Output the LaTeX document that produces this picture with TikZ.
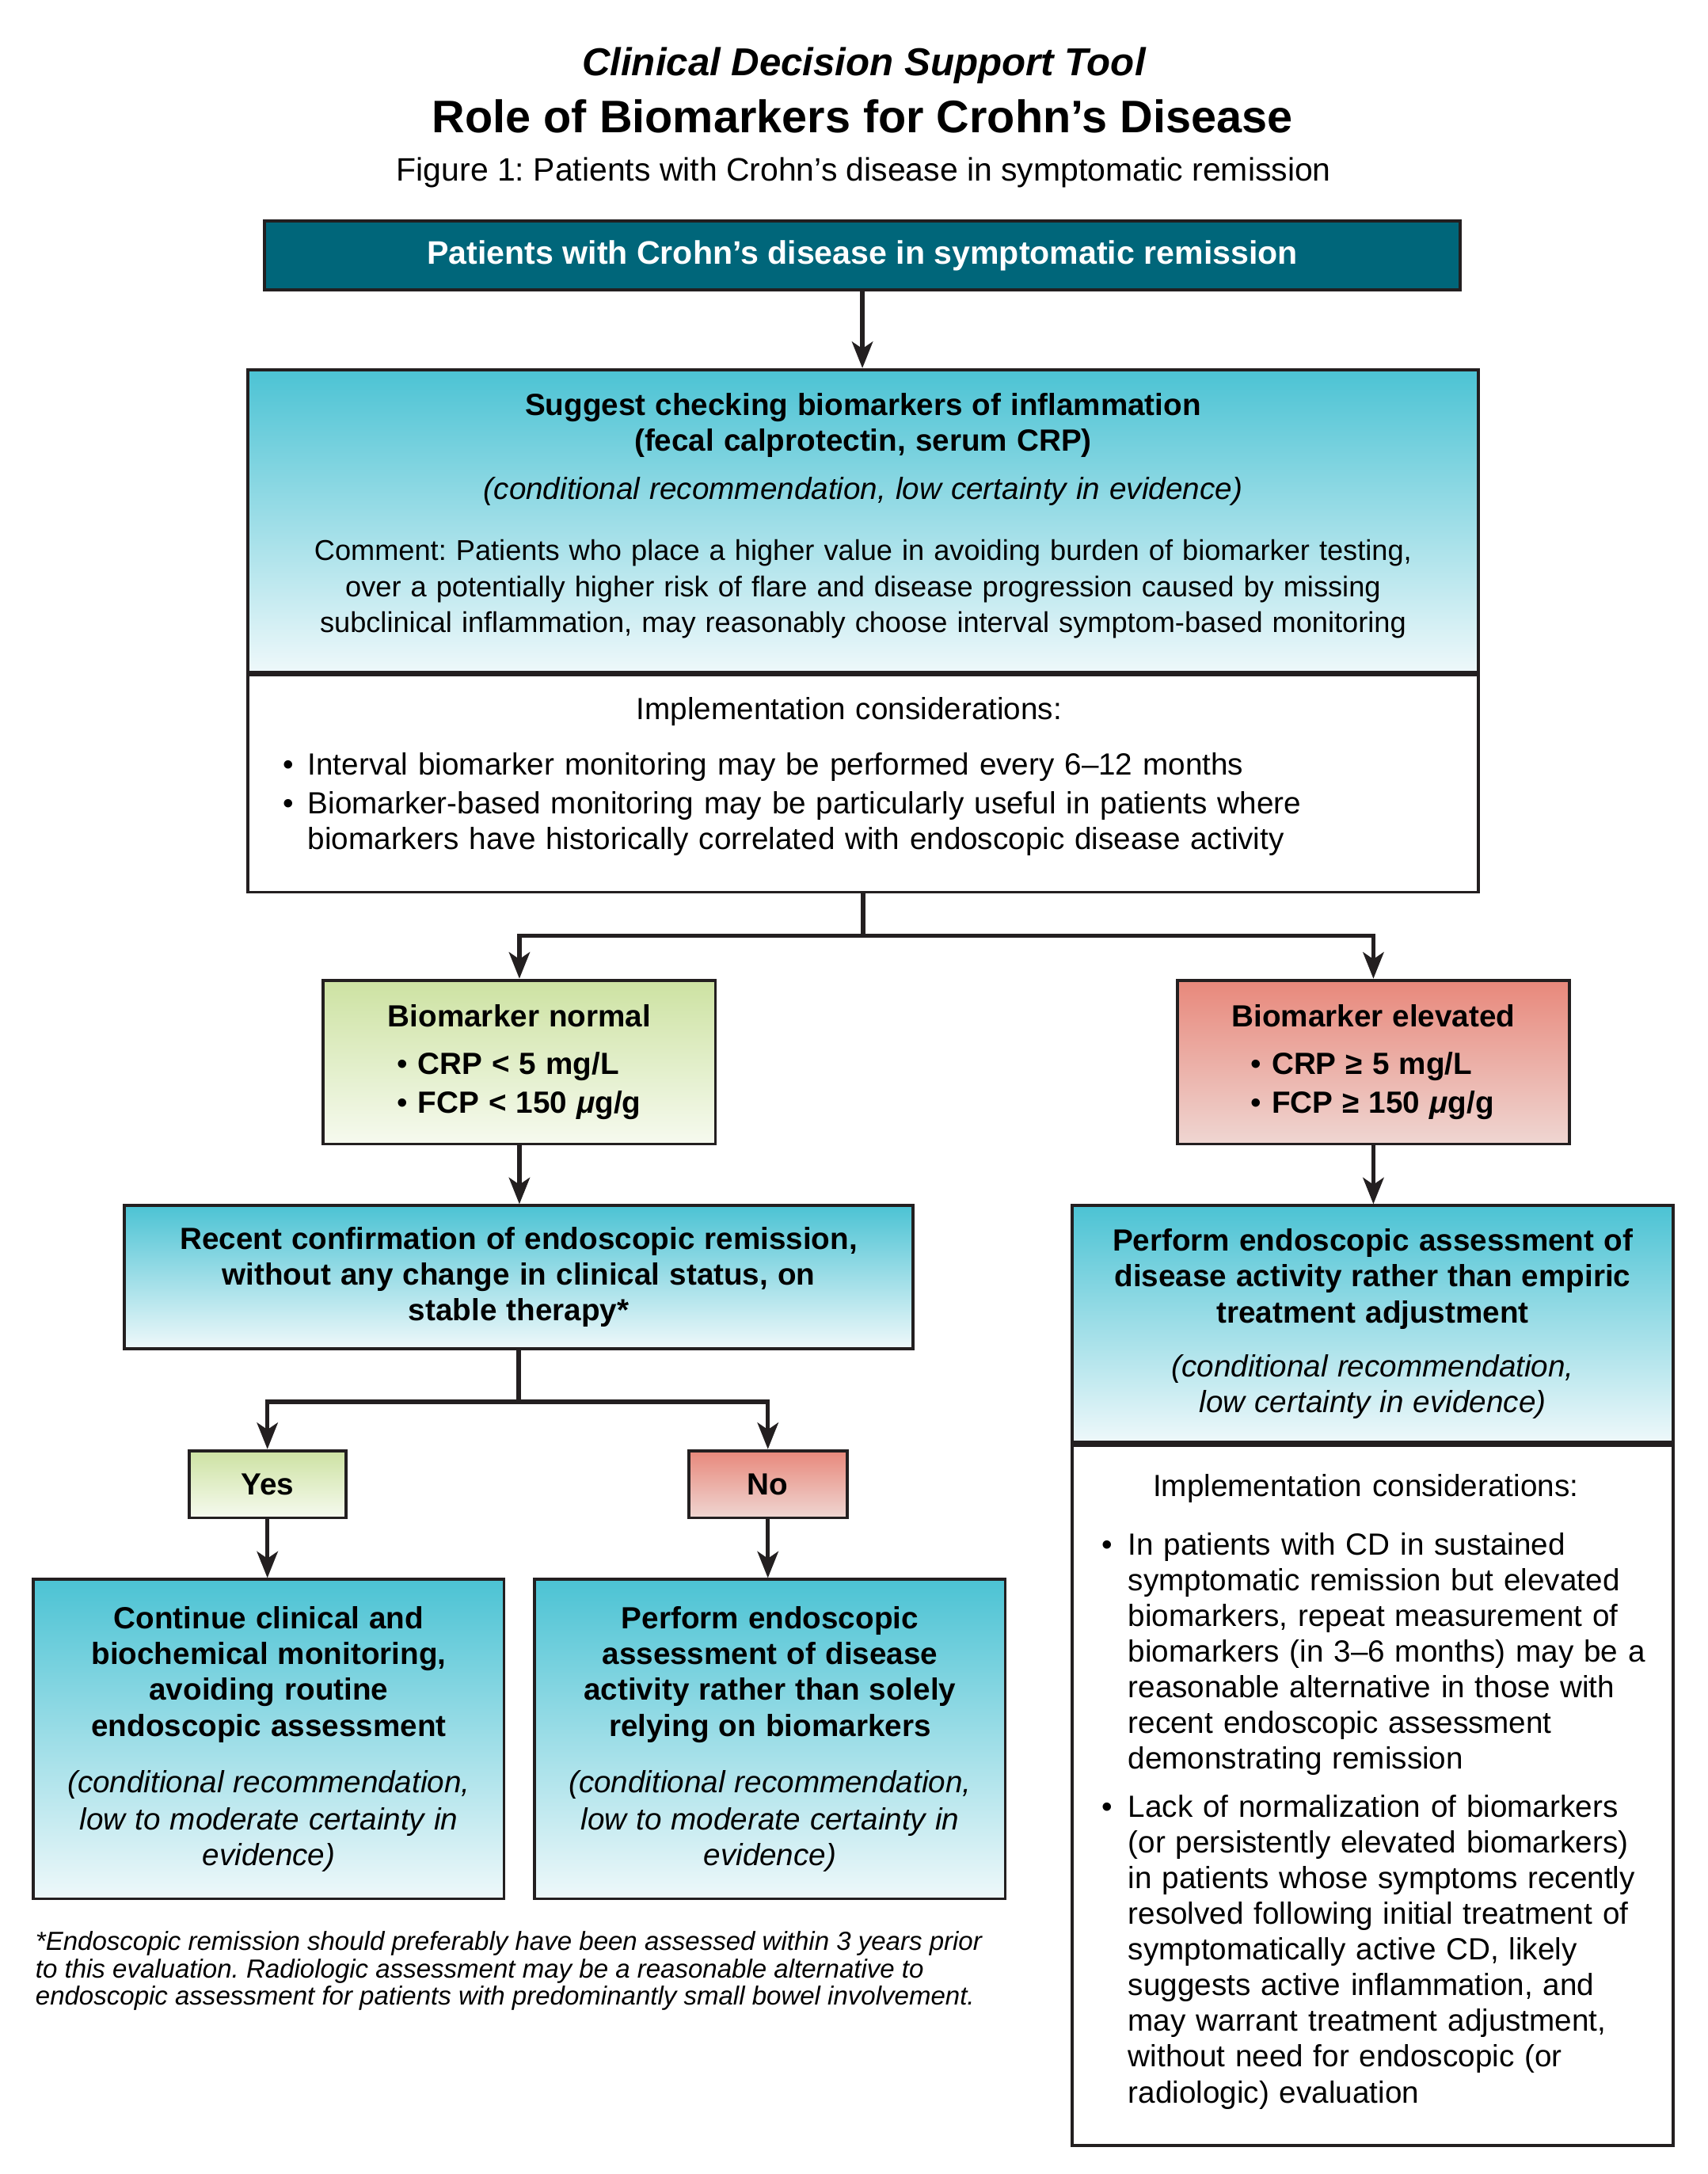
\documentclass[tikz,border=0pt]{standalone}
\usepackage{fontspec}
\setmainfont{Liberation Sans}
\usetikzlibrary{arrows.meta, positioning}
\frenchspacing

\definecolor{tealdark}{HTML}{00667A}
\definecolor{cyantop}{HTML}{4CC3D4}
\definecolor{cyanbot}{HTML}{EEF8FA}
\definecolor{greentop}{HTML}{CDE2A2}
\definecolor{greenbot}{HTML}{F6FAEF}
\definecolor{redtop}{HTML}{E8887B}
\definecolor{redbot}{HTML}{EFD6D2}
\definecolor{linegray}{HTML}{231F20}

\newcommand{\dpx}{0.01768cm}
\newcommand{\txf}{\fontsize{10.3}{12.9}\selectfont}
\newcommand{\lgf}{\fontsize{11}{12.9}\selectfont}
\newcommand{\hdf}{\fontsize{11}{12.9}\selectfont\bfseries}
\newcommand{\bul}[1]{\makebox[#1][l]{\mdseries\textbullet}}
\newcommand{\ind}[1]{\hspace*{#1}}
\newcommand{\lift}[1]{\rule[-#1]{0pt}{0pt}}

\begin{document}
\begin{tikzpicture}[x=0.01768cm, y=-0.01768cm]

	\tikzset{
		box/.style={draw=linegray, line width=1.1pt, inner sep=0pt, align=center, font=\txf},
		wh/.style 2 args={minimum width=#1*\dpx, minimum height=#2*\dpx},
		tw/.style={text width=#1*\dpx},
		cyanbox/.style={box, top color=cyantop, bottom color=cyanbot},
		greenbox/.style={box, top color=greentop, bottom color=greenbot},
		redbox/.style={box, top color=redtop, bottom color=redbot},
		whitebox/.style={box, fill=white, align=left, font=\lgf},
		plainline/.style={draw=linegray, line width=1.5pt},
		arrowline/.style={plainline, -{Stealth[length=9.5pt, width=7.5pt, inset=2.5pt]}}
	}

	\useasboundingbox (0,0) rectangle (1220,1552.6);

	% titles
	\node (title) at (617,47) {\fontsize{14}{16}\selectfont\bfseries\itshape Clinical Decision Support Tool};
	\node (maintitle) at (616,83) {\fontsize{16.4}{19}\selectfont\bfseries Role of Biomarkers for Crohn’s Disease};
	\node (subtitle) at (617,123.5) {\fontsize{11.65}{13}\selectfont Figure 1: Patients with Crohn’s disease in symptomatic remission};

	% top
	\node[box, fill=tealdark, text=white, wh={854}{49}] (start) at (616,182.5)
		{\fontsize{11.7}{13}\selectfont\bfseries Patients with Crohn’s disease in symptomatic remission};

	\node[cyanbox, wh={879}{216}, tw=870] (sug) at (616.5,372)
		{{\hdf Suggest checking biomarkers of inflammation\\
		(fecal calprotectin, serum CRP)}\\[4.5pt]
		{\lgf\itshape (conditional recommendation, low certainty in evidence)}\\[9pt]
		Comment: Patients who place a higher value in avoiding burden of biomarker testing,\\
		over a potentially higher risk of flare and disease progression caused by missing\\
		subclinical inflammation, may reasonably choose interval symptom-based monitoring\lift{5.8pt}};
	\node[whitebox, wh={879}{155}, tw=829, below=0pt of sug] (impl1)
		{\fontsize{11}{13.8}\selectfont
		\makebox[\hsize]{\hspace*{-10pt}Implementation considerations:}\\[6.3pt]
		\bul{9pt}Interval biomarker monitoring may be performed every 6–12 months\\
		\bul{9pt}Biomarker-based monitoring may be particularly useful in patients where\\
		\ind{9pt}biomarkers have historically correlated with endoscopic disease activity\lift{7.5pt}};

	% biomarker results
	\node[greenbox, wh={280}{117}, tw=276] (normal) at (371,758.5)
		{\hdf Biomarker normal\\[4pt]
		\makebox[88pt][l]{\bul{7.5pt}CRP < 5 mg/L}\\[1pt]
		\makebox[88pt][l]{\bul{7.5pt}FCP < 150 \textit{μ}g/g}};
	\node[redbox, wh={280}{117}, tw=276] (elevated) at (981,758.5)
		{\hdf Biomarker elevated\\[4pt]
		\makebox[88pt][l]{\bul{7.5pt}CRP ≥ 5 mg/L}\\[1pt]
		\makebox[88pt][l]{\bul{7.5pt}FCP ≥ 150 \textit{μ}g/g}};

	% normal branch
	\node[cyanbox, wh={563}{102}, tw=555] (recent) at (370.5,912)
		{\hdf Recent confirmation of endoscopic remission,\\
		without any change in clinical status, on\\
		stable therapy*};
	\node[greenbox, wh={112}{48}] (yes) at (191,1060) {\hdf Yes};
	\node[redbox, wh={113}{48}] (no) at (548.5,1060) {\hdf No};
	\node[cyanbox, wh={336}{228}, tw=330] (cont) at (192,1242)
		{{\hdf Continue clinical and\\
		biochemical monitoring,\\
		avoiding routine\\
		endoscopic assessment}\\[7pt]
		{\fontsize{11}{13.3}\selectfont\itshape (conditional recommendation,\\
		low to moderate certainty in\\
		evidence)}};
	\node[cyanbox, wh={336}{228}, tw=330] (perf2) at (550,1242)
		{{\hdf Perform endoscopic\\
		assessment of disease\\
		activity rather than solely\\
		relying on biomarkers}\\[7pt]
		{\fontsize{11}{13.3}\selectfont\itshape (conditional recommendation,\\
		low to moderate certainty in\\
		evidence)}};

	% elevated branch
	\node[cyanbox, wh={429}{169}, tw=423] (perform) at (980.5,945.5)
		{{\hdf Perform endoscopic assessment of\\
		disease activity rather than empiric\\
		treatment adjustment}\\[6.5pt]
		{\lgf\itshape (conditional recommendation,\\
		low certainty in evidence)}};
	\node[whitebox, wh={429}{500}, tw=420, below=0pt of perform] (impl2)
		{\fontsize{11}{12.8}\selectfont
		\makebox[\hsize]{\hspace*{-5pt}Implementation considerations:}\\[8.3pt]
		\ind{8.3pt}\bul{9.5pt}In patients with CD in sustained\\
		\ind{17.8pt}symptomatic remission but elevated\\
		\ind{17.8pt}biomarkers, repeat measurement of\\
		\ind{17.8pt}biomarkers (in 3–6 months) may be a\\
		\ind{17.8pt}reasonable alternative in those with\\
		\ind{17.8pt}recent endoscopic assessment\\
		\ind{17.8pt}demonstrating remission\\[4.8pt]
		\ind{8.3pt}\bul{9.5pt}Lack of normalization of biomarkers\\
		\ind{17.8pt}(or persistently elevated biomarkers)\\
		\ind{17.8pt}in patients whose symptoms recently\\
		\ind{17.8pt}resolved following initial treatment of\\
		\ind{17.8pt}symptomatically active CD, likely\\
		\ind{17.8pt}suggests active inflammation, and\\
		\ind{17.8pt}may warrant treatment adjustment,\\
		\ind{17.8pt}without need for endoscopic (or\\
		\ind{17.8pt}radiologic) evaluation\lift{5pt}};

	% footnote
	\node[anchor=north west, align=left, inner sep=0pt, font=\fontsize{9.4}{9.85}\selectfont\itshape] (note) at (25,1379)
		{*Endoscopic remission should preferably have been assessed within 3 years prior\\
		to this evaluation. Radiologic assessment may be a reasonable alternative to\\
		endoscopic assessment for patients with predominantly small bowel involvement.};

	% connectors
	\draw[arrowline] (start.south) -- (start.south |- sug.north);
	\draw[plainline] (impl1.south) -- ++(0,30) coordinate (fork1);
	\draw[arrowline] (fork1) -| (normal.north);
	\draw[arrowline] (fork1) -| (elevated.north);
	\draw[arrowline] (normal.south) -- (normal.south |- recent.north);
	\draw[arrowline] (elevated.south) -- (elevated.south |- perform.north);
	\draw[plainline] (recent.south) -- ++(0,37) coordinate (fork2);
	\draw[arrowline] (fork2) -| (yes.north);
	\draw[arrowline] (fork2) -| (no.north);
	\draw[arrowline] (yes.south) -- (yes.south |- cont.north);
	\draw[arrowline] (no.south) -- (no.south |- perf2.north);

\end{tikzpicture}
\end{document}
